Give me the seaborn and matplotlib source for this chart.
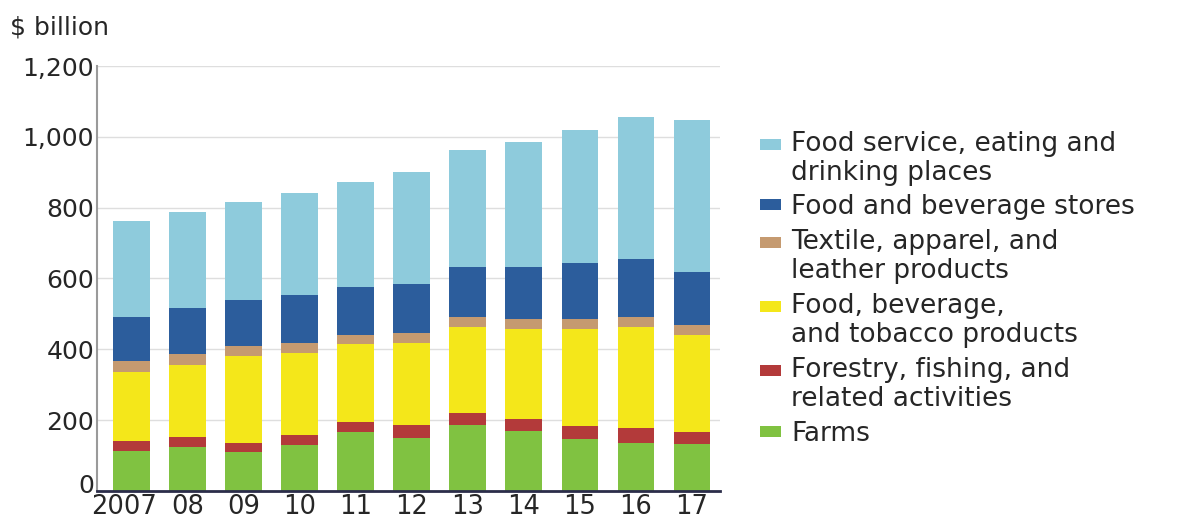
import matplotlib
matplotlib.use("Agg")
import matplotlib.pyplot as plt
import matplotlib.transforms as mtransforms
from matplotlib.legend_handler import HandlerPatch
from matplotlib.patches import Rectangle
import seaborn as sns
import pandas as pd

# Values ($ billion), 2007-2017.
years = ["2007", "08", "09", "10", "11", "12", "13", "14", "15", "16", "17"]
farms = [113, 125, 109, 130, 166, 151, 186, 168, 146, 136, 132]
forestry = [28, 28, 27, 28, 30, 35, 35, 35, 38, 41, 35]
food_bev = [196, 203, 245, 231, 218, 231, 241, 254, 273, 285, 274]
textile = [30, 30, 27, 28, 27, 28, 28, 28, 28, 28, 28]
stores = [125, 130, 131, 136, 136, 140, 143, 147, 158, 164, 149]
service = [271, 273, 278, 289, 296, 315, 330, 354, 376, 401, 430]

labels = [
    "Food service, eating and\ndrinking places",
    "Food and beverage stores",
    "Textile, apparel, and\nleather products",
    "Food, beverage,\nand tobacco products",
    "Forestry, fishing, and\nrelated activities",
    "Farms",
]
series = [service, stores, textile, food_bev, forestry, farms]
colors = ["#8ecbdc", "#2c5d9c", "#c59a70", "#f4e71a", "#b33a3a", "#80c241"]

rows = []
for lab, vals in zip(labels, series):
    for i, v in enumerate(vals):
        rows.append({"pos": i, "value": v, "category": lab})
df = pd.DataFrame(rows)

sns.set_style("white")
plt.rcParams["font.family"] = ["DejaVu Sans"]

fig = plt.figure(figsize=(11.78, 5.23), dpi=100)
ax = fig.add_axes([0.0823, 0.0612, 0.5289, 0.8126])

# first hue level ends up on top of the stack
sns.histplot(data=df, x="pos", weights="value", hue="category",
             hue_order=labels, palette=colors, multiple="stack",
             discrete=True, shrink=0.66, alpha=1, linewidth=0,
             edgecolor="none", ax=ax)

ax.set_xlim(-0.625, 10.5)
ax.set_ylim(0, 1200)
ax.set_xticks(range(len(years)))
ax.set_xticklabels(years, fontsize=18.5)
ax.set_yticks(range(0, 1201, 200))
ax.set_yticklabels([f"{v:,}" for v in range(0, 1201, 200)], fontsize=18)
ax.tick_params(length=0, pad=2)
ax.set_xlabel("")
ax.set_ylabel("")
ax.yaxis.grid(True, color="#dedede", linewidth=1)
ax.set_axisbelow(True)
for s in ["top", "right"]:
    ax.spines[s].set_visible(False)
ax.spines["left"].set_color("#9a9a9a")
ax.spines["left"].set_linewidth(1.5)
ax.spines["bottom"].set_color("#2b2d4a")
ax.spines["bottom"].set_linewidth(2)

# "2007" sits a little left of its bar, and "0" a little above the axis
first = ax.get_xticklabels()[0]
first.set_transform(first.get_transform() +
                    mtransforms.ScaledTranslation(-8 / 100, 0, fig.dpi_scale_trans))
zero = ax.get_yticklabels()[0]
zero.set_transform(zero.get_transform() +
                   mtransforms.ScaledTranslation(0, 7 / 100, fig.dpi_scale_trans))


class RaisedPatch(HandlerPatch):
    # keeps the swatch level with the first line of a two-line label
    def __init__(self, dy):
        super().__init__()
        self.dy = dy

    def _create_patch(self, legend, orig_handle, xdescent, ydescent,
                      width, height, fontsize):
        return Rectangle((-xdescent, -ydescent + self.dy), width, height)


old = ax.get_legend()
handles = list(old.legend_handles)
leg_labels = [t.get_text() for t in old.get_texts()]
old.remove()
hmap = {h: RaisedPatch(10.4 if "\n" in lab else 0)
        for h, lab in zip(handles, leg_labels)}

leg = ax.legend(handles, leg_labels, handler_map=hmap, loc="center left",
                bbox_to_anchor=(0.645, 0.448), bbox_transform=fig.transFigure,
                frameon=False, fontsize=19, handlelength=0.8, handleheight=0.27,
                handletextpad=0.4, labelspacing=0.33, borderpad=0,
                borderaxespad=0)
for t in leg.get_texts():
    t.set_linespacing(1.16)

fig.text(10 / 1178, 1 - 28 / 523, "$ billion", fontsize=18, va="center",
         ha="left")

fig.savefig("out.png", dpi=100)
